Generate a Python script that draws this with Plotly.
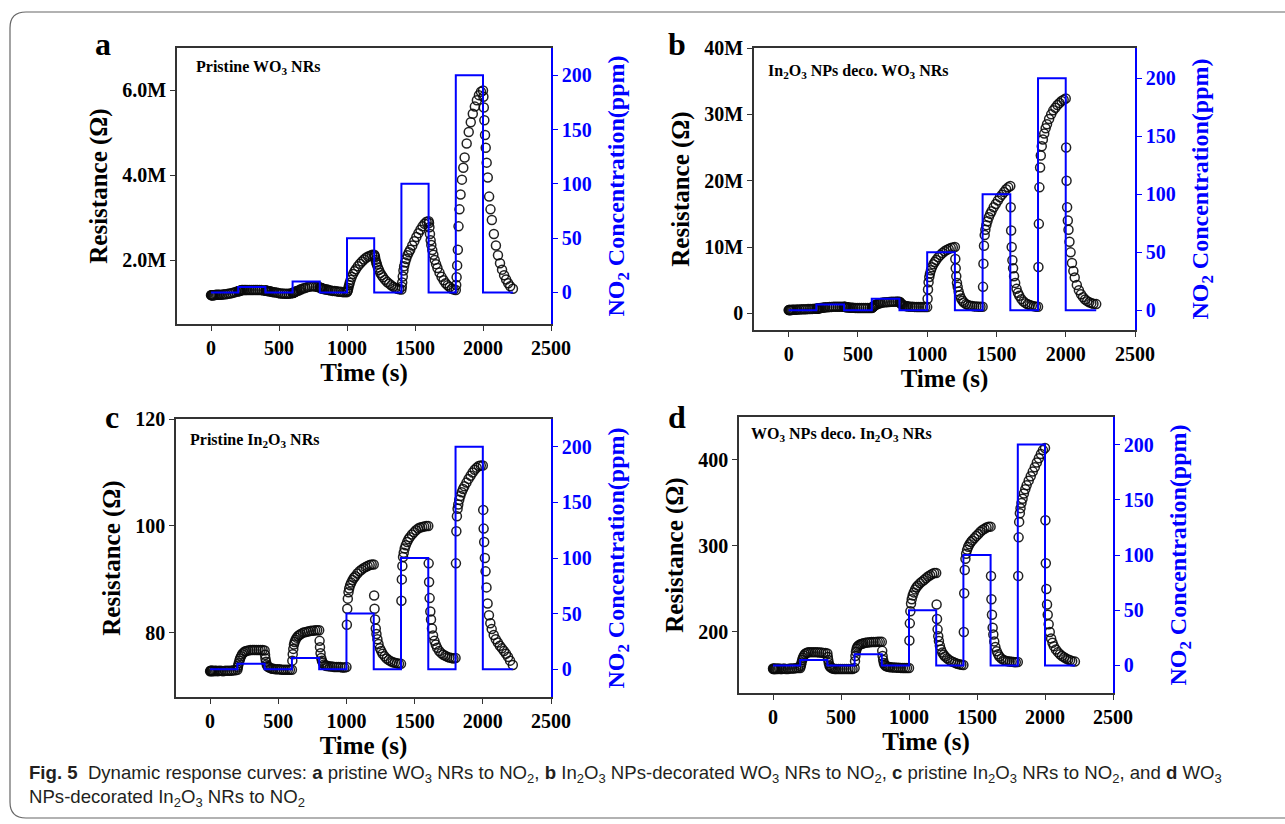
import plotly.graph_objects as go

W, H = 1285, 824

# ---------------- data ----------------
# sampling times (s) at which the resistance was read from the figure
T = [0, 3, 6, 10, 15, 20, 27, 35, 45, 55, 65, 80, 95, 110, 125, 140, 155, 170, 185,
     200, 203, 206, 210, 215, 220, 227, 235, 245, 255, 265, 280, 295, 310, 325, 340, 355, 370, 385,
     400, 403, 406, 410, 415, 420, 427, 435, 445, 455, 465, 480, 495, 510, 525, 540, 555, 570, 585,
     600, 603, 606, 610, 615, 620, 627, 635, 645, 655, 665, 680, 695, 710, 725, 740, 755, 770, 785,
     800, 803, 806, 810, 815, 820, 827, 835, 845, 855, 865, 880, 895, 910, 925, 940, 955, 970, 985,
     1000, 1003, 1006, 1010, 1015, 1020, 1027, 1035, 1045, 1055, 1065, 1080, 1095, 1110, 1125, 1140, 1155, 1170, 1185,
     1200, 1203, 1206, 1210, 1215, 1220, 1227, 1235, 1245, 1255, 1265, 1280, 1295, 1310, 1325, 1340, 1355, 1370, 1385,
     1400, 1403, 1406, 1410, 1415, 1420, 1427, 1435, 1445, 1455, 1465, 1480, 1495, 1510, 1525, 1540, 1555, 1570, 1585,
     1600, 1603, 1606, 1610, 1615, 1620, 1627, 1635, 1645, 1655, 1665, 1680, 1695, 1710, 1725, 1740, 1755, 1770, 1785,
     1800, 1803, 1806, 1810, 1815, 1820, 1827, 1835, 1845, 1855, 1865, 1880, 1895, 1910, 1925, 1940, 1955, 1970, 1985,
     2000, 2003, 2006, 2010, 2015, 2020, 2027, 2035, 2045, 2055, 2065, 2080, 2095, 2110, 2125, 2140, 2155, 2170, 2185, 2200, 2220]

# (a) pristine WO3 NRs, resistance in MOhm
R_A = [1.18, 1.18, 1.18, 1.18, 1.18, 1.18, 1.18, 1.19, 1.19, 1.19, 1.19, 1.19, 1.20, 1.20, 1.21, 1.22, 1.23, 1.24, 1.26,
       1.27, 1.27, 1.28, 1.28, 1.29, 1.29, 1.30, 1.30, 1.30, 1.30, 1.30, 1.30, 1.30, 1.30, 1.30, 1.30, 1.30, 1.30, 1.29,
       1.29, 1.29, 1.29, 1.28, 1.28, 1.28, 1.27, 1.27, 1.26, 1.25, 1.25, 1.24, 1.23, 1.22, 1.22, 1.21, 1.21, 1.21, 1.22,
       1.23, 1.23, 1.24, 1.24, 1.25, 1.26, 1.27, 1.28, 1.29, 1.31, 1.32, 1.34, 1.35, 1.37, 1.38, 1.39, 1.39, 1.38, 1.37,
       1.36, 1.36, 1.35, 1.35, 1.34, 1.33, 1.33, 1.32, 1.31, 1.31, 1.30, 1.29, 1.28, 1.28, 1.27, 1.26, 1.26, 1.25, 1.25,
       1.25, 1.27, 1.30, 1.35, 1.41, 1.47, 1.54, 1.61, 1.68, 1.74, 1.79, 1.86, 1.92, 1.97, 2.02, 2.06, 2.09, 2.11, 2.13,
       2.13, 2.11, 2.07, 2.01, 1.95, 1.90, 1.83, 1.77, 1.70, 1.65, 1.60, 1.54, 1.49, 1.45, 1.41, 1.38, 1.35, 1.33, 1.32,
       1.31, 1.38, 1.48, 1.62, 1.76, 1.86, 1.95, 2.03, 2.12, 2.19, 2.25, 2.35, 2.45, 2.55, 2.64, 2.72, 2.80, 2.86, 2.91,
       2.92, 2.88, 2.78, 2.62, 2.47, 2.36, 2.24, 2.13, 2.01, 1.91, 1.82, 1.71, 1.61, 1.53, 1.46, 1.41, 1.37, 1.33, 1.31,
       1.30, 1.42, 1.60, 1.88, 2.25, 2.80, 3.20, 3.55, 3.90, 4.18, 4.42, 4.75, 5.02, 5.25, 5.45, 5.62, 5.77, 5.89, 5.97,
       6.00, 5.85, 5.60, 5.30, 4.95, 4.65, 4.30, 3.95, 3.50, 3.20, 2.95, 2.62, 2.35, 2.12, 1.93, 1.78, 1.65, 1.55, 1.46, 1.39, 1.33]

# (b) In2O3 NPs decorated WO3 NRs, resistance in MOhm
R_B = [0.50, 0.50, 0.50, 0.50, 0.52, 0.52, 0.54, 0.55, 0.56, 0.57, 0.58, 0.60, 0.61, 0.62, 0.63, 0.65, 0.66, 0.68, 0.70,
       0.70, 0.71, 0.72, 0.73, 0.75, 0.77, 0.80, 0.83, 0.86, 0.89, 0.91, 0.94, 0.96, 0.98, 0.99, 1.00, 1.00, 1.00, 1.00,
       1.00, 0.99, 0.98, 0.97, 0.95, 0.93, 0.91, 0.89, 0.87, 0.85, 0.84, 0.83, 0.82, 0.81, 0.81, 0.80, 0.80, 0.80, 0.80,
       0.82, 0.87, 0.93, 1.00, 1.10, 1.18, 1.28, 1.36, 1.45, 1.52, 1.57, 1.63, 1.67, 1.70, 1.72, 1.74, 1.76, 1.77, 1.78,
       1.75, 1.68, 1.60, 1.50, 1.40, 1.32, 1.24, 1.17, 1.11, 1.07, 1.04, 1.01, 0.99, 0.98, 0.97, 0.96, 0.96, 0.95, 0.95,
       0.95, 2.20, 3.60, 4.70, 5.50, 6.00, 6.50, 6.95, 7.40, 7.75, 8.05, 8.45, 8.80, 9.10, 9.35, 9.55, 9.72, 9.85, 9.95,
       10.0, 8.20, 6.80, 5.60, 4.60, 4.00, 3.30, 2.75, 2.25, 1.90, 1.65, 1.40, 1.25, 1.15, 1.10, 1.06, 1.04, 1.02, 1.01,
       1.00, 4.00, 7.50, 10.2, 11.8, 12.6, 13.3, 13.9, 14.5, 15.0, 15.4, 16.0, 16.5, 17.0, 17.5, 17.9, 18.3, 18.7, 19.0,
       19.2, 16.0, 12.5, 10.0, 8.00, 6.80, 5.60, 4.60, 3.70, 3.10, 2.65, 2.15, 1.80, 1.55, 1.38, 1.25, 1.15, 1.08, 1.02,
       1.00, 7.00, 13.5, 19.0, 22.0, 23.8, 25.2, 26.2, 27.1, 27.9, 28.5, 29.3, 30.0, 30.6, 31.0, 31.4, 31.7, 32.0, 32.2,
       32.4, 25.0, 20.0, 16.0, 14.0, 12.6, 10.8, 9.20, 7.60, 6.40, 5.40, 4.30, 3.50, 2.90, 2.45, 2.10, 1.85, 1.68, 1.55, 1.45, 1.40]

# (c) pristine In2O3 NRs, resistance in Ohm
R_C = [72.8, 72.9, 72.9, 72.8, 72.9, 72.9, 72.8, 72.9, 72.9, 72.8, 72.9, 72.9, 72.8, 72.9, 72.9, 72.9, 72.9, 73.0, 73.0,
       73.1, 73.5, 73.9, 74.3, 74.8, 75.2, 75.6, 76.0, 76.3, 76.5, 76.6, 76.7, 76.8, 76.8, 76.8, 76.8, 76.8, 76.8, 76.8,
       76.7, 75.9, 75.2, 74.6, 74.1, 73.8, 73.6, 73.5, 73.4, 73.3, 73.3, 73.2, 73.2, 73.2, 73.1, 73.1, 73.1, 73.1, 73.1,
       73.1, 74.8, 76.0, 77.0, 77.8, 78.3, 78.7, 79.1, 79.4, 79.6, 79.8, 80.0, 80.1, 80.2, 80.3, 80.4, 80.4, 80.5, 80.5,
       80.5, 78.5, 77.3, 76.2, 75.3, 74.8, 74.4, 74.1, 73.9, 73.8, 73.8, 73.7, 73.7, 73.6, 73.6, 73.6, 73.6, 73.5, 73.5,
       73.6, 81.5, 84.5, 86.4, 87.6, 88.3, 88.9, 89.4, 89.9, 90.3, 90.6, 91.1, 91.5, 91.8, 92.1, 92.3, 92.5, 92.7, 92.8,
       92.8, 87.0, 84.5, 82.5, 80.8, 79.8, 78.8, 77.9, 77.1, 76.6, 76.1, 75.6, 75.2, 74.9, 74.7, 74.5, 74.4, 74.3, 74.2,
       74.2, 86.0, 90.0, 92.5, 94.2, 95.0, 95.8, 96.4, 97.0, 97.5, 97.9, 98.4, 98.8, 99.2, 99.5, 99.7, 99.8, 99.9, 100.0,
       100.0, 93.0, 89.5, 86.5, 84.0, 82.5, 80.8, 79.5, 78.5, 77.8, 77.2, 76.6, 76.2, 75.9, 75.7, 75.5, 75.4, 75.3, 75.2,
       75.3, 93.0, 99.0, 101.8, 103.2, 104.0, 104.9, 105.6, 106.3, 106.9, 107.4, 108.1, 108.8, 109.4, 110.0, 110.5, 110.9, 111.2, 111.3,
       111.3, 103.0, 99.5, 97.0, 94.0, 91.5, 88.5, 85.5, 83.3, 81.8, 80.7, 79.6, 78.8, 78.2, 77.6, 77.1, 76.6, 76.1, 75.5, 74.8, 74.0]

# (d) WO3 NPs decorated In2O3 NRs, resistance in Ohm
R_D = [157.5, 157.0, 157.0, 157.5, 157.0, 157.0, 157.5, 157.0, 157.5, 157.0, 157.0, 157.5, 157.0, 157.0, 157.5, 157.5, 157.5, 158.0, 158.0,
       158.0, 160.0, 162.0, 164.5, 167.5, 170.0, 172.5, 174.5, 175.5, 176.0, 176.5, 176.5, 176.5, 176.5, 176.5, 176.0, 176.0, 175.5, 175.5,
       175.0, 171.0, 167.5, 164.0, 161.0, 159.5, 158.5, 157.8, 157.3, 157.0, 157.0, 157.0, 157.0, 157.0, 157.0, 157.0, 157.0, 157.0, 157.0,
       158.0, 166.0, 172.0, 177.0, 180.5, 182.5, 184.0, 185.0, 185.8, 186.3, 186.8, 187.3, 187.7, 188.0, 188.2, 188.3, 188.4, 188.5, 188.5,
       188.5, 178.0, 172.0, 167.5, 164.0, 162.0, 160.7, 160.0, 159.5, 159.2, 159.0, 158.8, 158.6, 158.5, 158.3, 158.2, 158.1, 158.0, 158.0,
       158.0, 190.0, 210.0, 224.0, 233.0, 238.0, 242.5, 246.0, 249.5, 252.0, 254.0, 256.5, 258.5, 260.5, 262.5, 264.5, 266.0, 267.5, 268.5,
       268.5, 232.0, 215.0, 203.0, 195.0, 189.5, 184.0, 179.5, 176.0, 173.5, 171.5, 169.5, 167.5, 166.0, 165.0, 164.0, 163.0, 162.3, 161.8,
       161.5, 200.0, 245.0, 272.0, 285.0, 291.0, 295.5, 299.0, 302.0, 304.5, 306.5, 309.0, 311.5, 314.0, 316.5, 318.5, 320.0, 321.5, 322.5,
       322.5, 265.0, 238.0, 220.0, 205.0, 197.0, 189.0, 182.5, 177.5, 174.0, 171.5, 169.0, 167.5, 166.5, 166.0, 165.5, 165.2, 165.0, 164.8,
       165.0, 265.0, 310.0, 328.0, 338.0, 344.0, 350.0, 355.0, 361.0, 366.0, 370.5, 376.0, 381.0, 386.5, 391.5, 397.0, 402.0, 407.0, 411.5,
       414.0, 330.0, 280.0, 250.0, 232.0, 220.0, 209.0, 200.0, 192.5, 187.5, 183.5, 179.5, 176.5, 174.0, 172.0, 170.5, 169.0, 168.0, 167.0, 166.0, 165.5]

# NO2 concentration steps (ppm)
STEP_T = [0, 200, 400, 600, 800, 1000, 1200, 1400, 1600, 1800, 2000, 2220]
CONC = [0, 5, 0, 10, 0, 50, 0, 100, 0, 200, 0, 0]

X_TICKS = [0, 500, 1000, 1500, 2000, 2500]
CONC_TICKS = [0, 50, 100, 150, 200]

# ---------------- styling / layout ----------------
SERIF = "Liberation Serif, Times New Roman, serif"
BLUE = "#0000FF"

panels = [
    dict(letter="a", R=R_A, box=(177, 551, 48, 324), yr=[0.5, 7.0],
         tv=[2, 4, 6], tt=["2.0M", "4.0M", "6.0M"], y2r=[-29, 225],
         label="Pristine WO<sub>3</sub> NRs", lab=(194, 68), let=(103, 44)),
    dict(letter="b", R=R_B, box=(754, 1135, 48, 330), yr=[-2.5, 40],
         tv=[0, 10, 20, 30, 40], tt=["0", "10M", "20M", "30M", "40M"], y2r=[-17, 226],
         label="In<sub>2</sub>O<sub>3</sub> NPs deco. WO<sub>3</sub> NRs", lab=(766, 71), let=(677, 44)),
    dict(letter="c", R=R_C, box=(176, 551, 419, 697), yr=[68, 120],
         tv=[80, 100, 120], tt=["80", "100", "120"], y2r=[-25, 225],
         label="Pristine In<sub>2</sub>O<sub>3</sub> NRs", lab=(188, 440), let=(112, 417)),
    dict(letter="d", R=R_D, box=(739, 1113, 417, 693), yr=[129, 450],
         tv=[200, 300, 400], tt=["200", "300", "400"], y2r=[-25, 225],
         label="WO<sub>3</sub> NPs deco. In<sub>2</sub>O<sub>3</sub> NRs", lab=(749, 434), let=(677, 417)),
]

fig = go.Figure()
layout = {}
annotations = []


def px(x):
    return x / W


def py(y):
    return 1 - y / H


for i, p in enumerate(panels):
    xa = i + 1
    yl = 2 * i + 1
    yr_ = 2 * i + 2
    xname = "x" if xa == 1 else f"x{xa}"
    ylname = "y" if yl == 1 else f"y{yl}"
    yrname = f"y{yr_}"
    x0, x1, y0, y1 = p["box"]
    n = min(len(T), len(p["R"]))

    fig.add_trace(go.Scatter(
        x=T[:n], y=p["R"][:n], mode="markers", xaxis=xname, yaxis=ylname,
        marker=dict(symbol="circle-open", size=9, color="rgba(10,10,10,0.9)",
                    line=dict(width=1.5)),
        showlegend=False, hoverinfo="skip"))
    fig.add_trace(go.Scatter(
        x=STEP_T, y=CONC, mode="lines", line_shape="hv", xaxis=xname, yaxis=yrname,
        line=dict(color=BLUE, width=2), showlegend=False, hoverinfo="skip"))

    layout["xaxis" if xa == 1 else f"xaxis{xa}"] = dict(
        domain=[px(x0), px(x1)], anchor=ylname, range=[-250, 2500],
        tickvals=X_TICKS, ticktext=[str(v) for v in X_TICKS],
        showline=True, linecolor="#333", linewidth=1.5, mirror=True,
        ticks="outside", ticklen=5, tickcolor="#333", showgrid=False, zeroline=False,
        automargin=False,
        tickfont=dict(family=SERIF, size=20, color="black", weight="bold"),
        title=dict(text="Time (s)", standoff=4,
                   font=dict(family=SERIF, size=25, color="black", weight="bold")))
    layout["yaxis" if yl == 1 else f"yaxis{yl}"] = dict(
        domain=[py(y1), py(y0)], anchor=xname, range=p["yr"],
        tickvals=p["tv"], ticktext=p["tt"],
        showline=True, linecolor="#333", linewidth=1.5,
        ticks="outside", ticklen=5, tickcolor="#333", showgrid=False, zeroline=False,
        automargin=False,
        tickfont=dict(family=SERIF, size=20, color="black", weight="bold"),
        title=dict(text="Resistance (Ω)", standoff=8,
                   font=dict(family=SERIF, size=25, color="black", weight="bold")))
    layout[f"yaxis{yr_}"] = dict(
        overlaying=ylname, anchor=xname, side="right", range=p["y2r"],
        tickvals=CONC_TICKS, ticktext=[str(v) for v in CONC_TICKS],
        showline=True, linecolor=BLUE, linewidth=1.5,
        ticks="outside", ticklen=5, tickcolor=BLUE, showgrid=False, zeroline=False,
        automargin=False,
        tickfont=dict(family=SERIF, size=20, color=BLUE, weight="bold"),
        title=dict(text="NO<sub>2</sub> Concentration(ppm)", standoff=16,
                   font=dict(family=SERIF, size=24, color=BLUE, weight="bold")))

    annotations.append(dict(text=p["letter"], x=px(p["let"][0]), y=py(p["let"][1]),
                            xref="paper", yref="paper", showarrow=False,
                            xanchor="center", yanchor="middle",
                            font=dict(family=SERIF, size=32, color="black", weight="bold")))
    annotations.append(dict(text=p["label"], x=px(p["lab"][0]), y=py(p["lab"][1]),
                            xref="paper", yref="paper", showarrow=False,
                            xanchor="left", yanchor="middle",
                            font=dict(family=SERIF, size=16, color="black", weight="bold")))

CAP_FONT = "Liberation Sans Narrow, Arial Narrow, sans-serif"
cap1 = ("<b>Fig. 5</b>  Dynamic response curves: <b>a</b> pristine WO<sub>3</sub> NRs to NO<sub>2</sub>, "
        "<b>b</b> In<sub>2</sub>O<sub>3</sub> NPs-decorated WO<sub>3</sub> NRs to NO<sub>2</sub>, "
        "<b>c</b> pristine In<sub>2</sub>O<sub>3</sub> NRs to NO<sub>2</sub>, and <b>d</b> WO<sub>3</sub>")
cap2 = "NPs-decorated In<sub>2</sub>O<sub>3</sub> NRs to NO<sub>2</sub>"
annotations.append(dict(text=cap1, x=px(27), y=py(774), xref="paper", yref="paper",
                        showarrow=False, xanchor="left", yanchor="middle",
                        font=dict(family=CAP_FONT, size=18.6, color="#231f20")))
annotations.append(dict(text=cap2, x=px(27), y=py(798), xref="paper", yref="paper",
                        showarrow=False, xanchor="left", yanchor="middle",
                        font=dict(family=CAP_FONT, size=18.6, color="#231f20")))


# rounded frame (open on the right side)
def P(x, y):
    return f"{px(x):.5f},{py(y):.5f}"


frame = (f"M {P(1290, 12)} L {P(26, 12)} Q {P(10, 12)} {P(10, 28)} "
         f"L {P(10, 802)} Q {P(10, 818)} {P(26, 818)} L {P(1290, 818)}")

fig.update_layout(
    width=W, height=H, margin=dict(l=0, r=0, t=0, b=0, pad=0, autoexpand=False),
    paper_bgcolor="white", plot_bgcolor="white", showlegend=False,
    annotations=annotations,
    shapes=[dict(type="path", path=frame, xref="paper", yref="paper",
                 line=dict(color="#666", width=1.2))],
    **layout)

fig.write_html("out.html")
